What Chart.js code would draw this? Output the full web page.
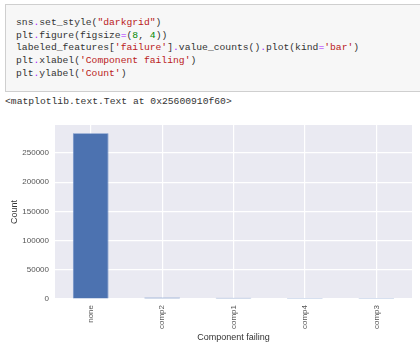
<!DOCTYPE html>
<html>
<head>
<meta charset="utf-8">
<script src="https://cdn.jsdelivr.net/npm/chart.js@4"></script>
<style>
  body { margin: 0; background: #fff; width: 420px; height: 345px; overflow: hidden; position: relative; }
  .cell { position: absolute; left: 5px; top: 4px; width: 430px; height: 86px; background: #f7f7f7; border: 1px solid #cfcfcf; }
  pre { margin: 0; font-family: "Liberation Mono", "DejaVu Sans Mono", monospace; font-size: 9.7px; line-height: 12.7px; color: #333; }
  .code { position: absolute; left: 10px; top: 12px; }
  .out { position: absolute; left: 5px; top: 96px; }
  .s { color: #ba2121; }
  .n { color: #008800; }
  .o { color: #aa22ff; }
  #wrap { position: absolute; left: 0; top: 110px; width: 420px; height: 235px; }
</style>
</head>
<body>
<div class="cell">
<pre class="code">sns<span class="o">.</span>set_style(<span class="s">"darkgrid"</span>)
plt<span class="o">.</span>figure(figsize<span class="o">=</span>(<span class="n">8</span>, <span class="n">4</span>))
labeled_features[<span class="s">'failure'</span>]<span class="o">.</span>value_counts()<span class="o">.</span>plot(kind<span class="o">=</span><span class="s">'bar'</span>)
plt<span class="o">.</span>xlabel(<span class="s">'Component failing'</span>)
plt<span class="o">.</span>ylabel(<span class="s">'Count'</span>)</pre>
</div>
<pre class="out">&lt;matplotlib.text.Text at 0x25600910f60&gt;</pre>
<div id="wrap"><canvas id="chart" width="420" height="235"></canvas></div>
<script>
// failure value counts
const categories = ["none", "comp2", "comp1", "comp4", "comp3"];
const counts = [283700, 2600, 2000, 1900, 1600];
const yTicks = [0, 50000, 100000, 150000, 200000, 250000];

const ctx = document.getElementById("chart").getContext("2d");
const chart = new Chart(ctx, {
  type: "bar",
  data: {
    labels: categories,
    datasets: [{
      data: counts,
      backgroundColor: "#4c72b0",
      borderColor: "#6a8cc4",
      borderWidth: 0.8,
      categoryPercentage: 1,
      barPercentage: 0.5
    }]
  },
  plugins: [{
    id: "bg",
    beforeDraw: function (c) {
      const a = c.chartArea;
      c.ctx.save();
      c.ctx.fillStyle = "#eaeaf2";
      c.ctx.fillRect(a.left, a.top, a.right - a.left, a.bottom - a.top);
      c.ctx.restore();
    }
  }],
  options: {
    responsive: false,
    animation: false,
    layout: { padding: { top: 15, right: 8, left: 9, bottom: 0 } },
    plugins: { legend: { display: false }, tooltip: { enabled: false } },
    scales: {
      x: {
        grid: { color: "#ffffff", lineWidth: 1.2, offset: false, drawTicks: false },
        border: { display: false },
        ticks: {
          minRotation: 90, maxRotation: 90, padding: 6,
          color: "#555", font: { family: "Liberation Sans, Arial", size: 8 }
        },
        title: {
          display: true, text: "Component failing", color: "#333",
          font: { family: "Liberation Sans, Arial", size: 9 }, padding: { top: 0, bottom: 2 }
        },
        afterFit: function (s) { s.height = 46; }
      },
      y: {
        min: 0,
        max: 297900,
        grid: { color: "#ffffff", lineWidth: 1.2, drawTicks: false },
        border: { display: false },
        afterBuildTicks: function (s) { s.ticks = yTicks.map(function (v) { return { value: v }; }); },
        ticks: {
          padding: 6, color: "#555",
          font: { family: "Liberation Sans, Arial", size: 8 },
          callback: function (v) { return String(v); }
        },
        title: {
          display: true, text: "Count", color: "#333",
          font: { family: "Liberation Sans, Arial", size: 9 }, padding: { top: 0, bottom: 4 }
        },
        afterFit: function (s) { s.width = 46; }
      }
    }
  }
});
</script>
</body>
</html>
